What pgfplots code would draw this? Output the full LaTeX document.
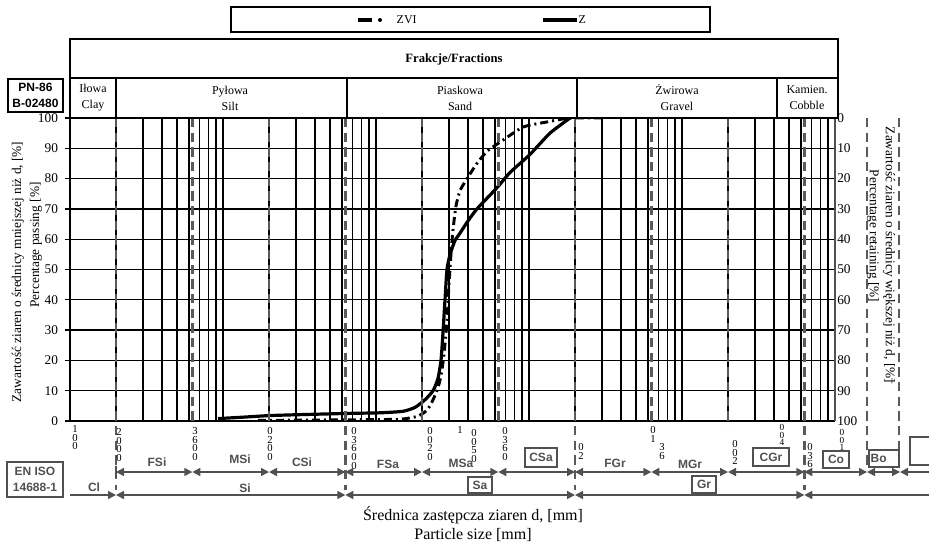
\documentclass[border=0pt]{standalone}
\usepackage{fontspec}
\setmainfont{Liberation Serif}
\newfontfamily\arial{Liberation Sans}
\usepackage{pgfplots}
\pgfplotsset{compat=1.18}
\usetikzlibrary{arrows.meta}
\definecolor{tg}{RGB}{80,80,80}
\definecolor{dg}{RGB}{90,90,90}
\tikzset{
  tri/.tip={Triangle[length=6pt,width=6pt]},
  tabline/.style={tg,line width=1.1pt},
  tablab/.style={tg,font=\arial\bfseries\fontsize{9}{11}\selectfont},
  tabbox/.style={tg,draw,line width=1.4pt,inner sep=0pt},
  bnd/.style={dg,line width=1.9pt,dash pattern=on 7pt off 4pt},
  stk/.style={anchor=north,inner sep=0pt,align=center,font=\fontsize{8}{6.6}\selectfont},
  stks/.style={stk,font=\fontsize{7}{5.8}\selectfont},
  hdr/.style={align=center,font=\fontsize{9}{12}\selectfont},
}
\begin{document}
\begin{tikzpicture}
\path[use as bounding box] (0pt,0pt) rectangle (696.75pt,-408pt);

% main axis: percentage passing
\begin{axis}[
  at={(52.5pt,-88.5pt)}, anchor=north west,
  width=573.75pt, height=227.25pt, scale only axis,
  xmode=log, xmin=0.001, xmax=100, ymin=0, ymax=100,
  axis x line*=bottom, axis y line*=left,
  axis line style={line width=1.4pt,-},
  xtick={0.001,0.01,0.1,1,10,100}, xticklabels={,,,,,},
  minor xtick={0.002,0.003,0.004,0.005,0.006,0.007,0.008,0.009,
               0.02,0.03,0.04,0.05,0.06,0.07,0.08,0.09,
               0.2,0.3,0.4,0.5,0.6,0.7,0.8,0.9,
               2,3,4,5,6,7,8,9,20,30,40,50,60,70,80,90},
  ytick={0,10,...,100},
  xmajorgrids, xminorgrids, ymajorgrids,
  grid style={black,line width=1pt},
  minor grid style={black,line width=1pt},
  major x tick style={draw=none}, minor x tick style={draw=none},
  ytick style={black,line width=1pt},
  tick align=outside, major tick length=4pt,
  yticklabel style={font=\fontsize{10}{12}\selectfont,xshift=-1.5pt},
  /pgf/number format/assume math mode=true,
]
% Z
\addplot[black,line width=2.4pt,line join=round,smooth,tension=0.35] coordinates {
 (0.00927,0.8) (0.0139,1.3) (0.0203,1.8) (0.0319,2.1) (0.0646,2.5)
 (0.106,2.7) (0.150,3.2) (0.180,4.5) (0.209,7) (0.236,10) (0.254,14)
 (0.266,20) (0.274,29) (0.2825,40) (0.291,50) (0.305,55) (0.328,59.5)
 (0.354,62) (0.399,66) (0.457,70) (0.618,77) (0.751,82) (1.016,88)
 (1.371,95) (1.854,100)};
% ZVI
\addplot[black,line width=2.2pt,line join=round,smooth,tension=0.35,
  dash pattern=on 6pt off 3pt on 1.5pt off 3pt] coordinates {
 (0.0169,0.2) (0.0319,0.3) (0.0676,0.4) (0.1435,0.6) (0.185,1.5)
 (0.209,3) (0.2254,5) (0.2505,10) (0.2661,15) (0.2782,22) (0.291,33)
 (0.2999,45) (0.3091,55) (0.3185,63) (0.3334,71) (0.354,76) (0.3935,80)
 (0.457,85) (0.531,89) (0.646,92) (0.914,97) (1.312,98.7) (1.854,100)
 (3.14,100)};
\end{axis}

% right axis: percentage retaining
\begin{axis}[
  at={(52.5pt,-88.5pt)}, anchor=north west,
  width=573.75pt, height=227.25pt, scale only axis,
  xmode=log, xmin=0.001, xmax=100, ymin=0, ymax=100, y dir=reverse,
  axis x line=none, axis y line*=right,
  axis line style={tg,line width=1.2pt,-},
  ytick={0,10,...,100}, ytick style={draw=none}, major tick length=0pt,
  yticklabel style={font=\fontsize{10}{12}\selectfont,inner xsep=1.5pt},
  /pgf/number format/assume math mode=true,
]
\end{axis}

\begin{scope}[x=0.75pt,y=-0.75pt]
% fraction boundaries
\foreach \x in {192.3,269,422,498.3,651.3,728} \draw[bnd] (\x,118)--(\x,426);
\foreach \x in {116,345.3,575,804.3} \draw[bnd] (\x,118)--(\x,490);
\foreach \x in {867,899} \draw[bnd] (\x,118)--(\x,470);

% legend
\draw[line width=1.2pt] (231,7) rectangle (710,32);
\draw[line width=3pt] (358,20)--(372,20);
\fill (380,20) circle[radius=1.5pt];
\node[anchor=west,font=\fontsize{9}{11}\selectfont] at (392,20) {ZVI};
\draw[line width=3pt] (543,20)--(577,20);
\node[anchor=west,inner xsep=1pt,font=\fontsize{9}{11}\selectfont] at (577,20) {Z};

% header table
\draw[line width=1.5pt] (70,39) rectangle (838,118);
\draw[line width=1.5pt] (70,78)--(838,78);
\foreach \x in {116,347,577,777} \draw[line width=1.5pt] (\x,78)--(\x,118);
\node[font=\bfseries\fontsize{9.5}{11}\selectfont] at (454,59) {Frakcje/Fractions};
\node[hdr] at (93,98) {Iłowa\\Clay};
\node[hdr] at (230,98) {Pyłowa\\Silt};
\node[hdr] at (460,98) {Piaskowa\\Sand};
\node[hdr] at (677,98) {Żwirowa\\Gravel};
\node[hdr] at (807,98) {Kamien.\\Cobble};
\draw[line width=1.5pt] (8,79) rectangle (63,112);
\node[align=center,font=\arial\bfseries\fontsize{9}{12}\selectfont] at (35.5,95.5) {PN-86\\B-02480};

% side titles
\node[rotate=90,font=\fontsize{10}{12}\selectfont] at (18,272) {Zawartość ziaren o średnicy mniejszej niż d, [\%]};
\node[rotate=90,font=\fontsize{10}{12}\selectfont] at (36,245) {Percentage passing [\%]};
\node[rotate=-90,font=\fontsize{10}{12}\selectfont] at (889,255) {Zawartość ziaren o średnicy większej niż d, [\%]};
\node[rotate=-90,font=\fontsize{10}{12}\selectfont] at (873,236) {Percentage retaining [\%]};
\node[rotate=-90,font=\fontsize{8}{10}\selectfont] at (891,381) {–};

% size labels
\node[stk] at (75,425) {1\\0\\0};
\node[stk] at (119,428) {2\\0\\0\\0};
\node[stk] at (195,427) {3\\6\\0\\0};
\node[stk] at (270,427) {0\\2\\0\\0};
\node[stk] at (354,427) {0\\3\\6\\0\\0};
\node[stk] at (430,427) {0\\0\\2\\0};
\node[anchor=north,inner sep=0pt,font=\fontsize{8}{9}\selectfont] at (460,426) {1};
\node[stk] at (474,429) {0\\0\\5\\0};
\node[stk] at (505,427) {0\\3\\6\\0};
\node[stk] at (581,443) {0\\2};
\node[stk] at (653,426) {0\\1};
\node[stk] at (662,443) {3\\6};
\node[stk] at (735,440) {0\\0\\2};
\node[stks] at (782,424) {0\\0\\4};
\node[stk] at (810,443) {0\\3\\6};
\node[stks] at (842,429) {0\\0\\1};

% EN ISO table, row 1
\draw[tabline] (116,466)--(116,478);
\foreach \a/\b in {116/192.3,192.3/269,269/345.3,345.3/422,422/498.3,498.3/575,
                   575/651.3,651.3/728,728/804.3,804.3/867,867/900}
  \draw[tabline,{tri}-{tri}] (\a,472)--(\b,472);
\draw[tabline,{tri}-] (900,472)--(929,472);
\node[tablab] at (157,462) {FSi};
\node[tablab] at (240,459) {MSi};
\node[tablab] at (302,462) {CSi};
\node[tablab] at (388,464) {FSa};
\node[tablab] at (461,463) {MSa};
\node[tablab] at (615,463) {FGr};
\node[tablab] at (690,464) {MGr};
\node[tabbox,minimum width=24pt,minimum height=14pt] at (541,457.5) {\arial\bfseries\fontsize{9}{11}\selectfont CSa};
\node[tabbox,minimum width=27pt,minimum height=13pt] at (771,457) {\arial\bfseries\fontsize{9}{11}\selectfont CGr};
\node[tabbox,minimum width=20pt,minimum height=13pt] at (836,459.5) {\arial\bfseries\fontsize{9}{11}\selectfont Co};
\node[tabbox,minimum width=22.5pt,minimum height=13pt,text width=20pt,align=left] at (884,458.5) {\arial\bfseries\fontsize{9}{11}\selectfont Bo};
\draw[tg,line width=1.4pt] (929,437) -- (910,437) -- (910,465) -- (929,465);
% row 2
\draw[tabline,-{tri}] (70,495)--(116,495);
\foreach \a/\b in {116/345.3,345.3/575,575/804.3}
  \draw[tabline,{tri}-{tri}] (\a,495)--(\b,495);
\draw[tabline,{tri}-] (804.3,495)--(929,495);
\node[tablab] at (94,487) {Cl};
\node[tablab] at (245,488) {Si};
\node[tabbox,minimum width=18pt,minimum height=12pt] at (480,485) {\arial\bfseries\fontsize{9}{11}\selectfont Sa};
\node[tabbox,minimum width=18pt,minimum height=12.5pt] at (704,484.5) {\arial\bfseries\fontsize{9}{11}\selectfont Gr};
\draw[tg,line width=1.4pt] (7,462) rectangle (63,497);
\node[tg,align=center,font=\arial\bfseries\fontsize{9}{12}\selectfont] at (35,479.5) {EN ISO\\14688-1};

% x title
\node[font=\fontsize{12}{14}\selectfont] at (473,515) {Średnica zastępcza ziaren d, [mm]};
\node[font=\fontsize{12}{14}\selectfont] at (473,535) {Particle size [mm]};
\end{scope}
\end{tikzpicture}
\end{document}
